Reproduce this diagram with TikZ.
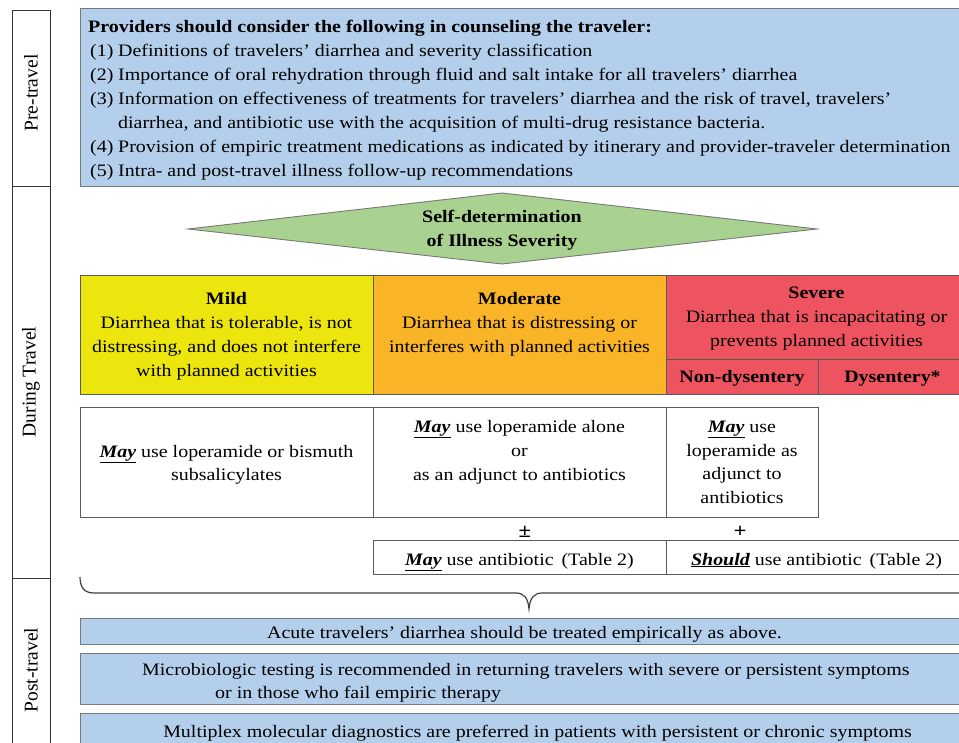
\documentclass[tikz,border=0pt]{standalone}
\usepackage{fontspec}
\setmainfont{Liberation Serif}[FakeStretch=1.14]
\newfontfamily\lblfont{Liberation Serif}
\definecolor{blueF}{RGB}{180,207,235}
\definecolor{greenF}{RGB}{169,210,145}
\definecolor{mildY}{RGB}{236,230,14}
\definecolor{modO}{RGB}{249,180,40}
\definecolor{sevR}{RGB}{238,84,96}
\definecolor{bord}{RGB}{90,90,90}
\definecolor{bordL}{RGB}{120,120,120}
\begin{document}
\begin{tikzpicture}[x=1pt,y=-1pt,
  ln/.style={anchor=base, inner sep=0pt, font=\fontsize{17.5}{24}\selectfont},
  lnw/.style={ln, anchor=base west},
  bluebox/.style={draw=bordL, line width=0.9pt, fill=blueF},
  sevbox/.style={draw=bord, line width=0.9pt},
  treatbox/.style={draw=bord, line width=0.8pt, fill=white},
  sidebox/.style={draw=black!80, line width=0.9pt},
  side/.style={rotate=90, inner sep=0pt, font=\lblfont\fontsize{19.5}{24}\selectfont},
  bracestyle/.style={draw=black!75, line width=1.2pt},
]
\clip (0,0) rectangle (959,743);
\fill[white] (0,0) rectangle (959,743);

% side columns
\draw[sidebox] (12,10) rectangle (50,186);
\draw[sidebox] (12,186) rectangle (50,578);
\draw[sidebox] (12,578) rectangle (50,760);
\node[side] (pre) at (31,93) {Pre-travel};
\node[side] (during) at (31,382) {During Travel};
\node[side] (post) at (31,670) {Post-travel};

% top box
\draw[bluebox] (80,8) rectangle (967,186);
\node[lnw] (h0) at (88,33) {\textbf{Providers should consider the following in counseling the traveler:}};
\node[lnw] (n1) at (90,57) {(1)};
\node[lnw] (t1) at (118,57) {Definitions of travelers' diarrhea and severity classification};
\node[lnw] (n2) at (90,81) {(2)};
\node[lnw] (t2) at (118,81) {Importance of oral rehydration through fluid and salt intake for all travelers' diarrhea};
\node[lnw] (n3) at (90,105) {(3)};
\node[lnw] (t3) at (118,105) {Information on effectiveness of treatments for travelers' diarrhea and the risk of travel, travelers'};
\node[lnw] (t3b) at (118,129) {diarrhea, and antibiotic use with the acquisition of multi-drug resistance bacteria.};
\node[lnw] (n4) at (90,153) {(4)};
\node[lnw] (t4) at (118,153) {Provision of empiric treatment medications as indicated by itinerary and provider-traveler determination};
\node[lnw] (n5) at (90,177) {(5)};
\node[lnw] (t5) at (118,177) {Intra- and post-travel illness follow-up recommendations};

% diamond
\draw[draw=bordL, line width=0.9pt, fill=greenF] (188,229) -- (502,193) -- (817,229) -- (502,264) -- cycle;
\node[ln] (sd1) at (502,223) {\textbf{Self-determination}};
\node[ln] (sd2) at (502,247) {\textbf{of Illness Severity}};

% severity row
\draw[sevbox, fill=mildY] (80,275) rectangle (373,394);
\draw[sevbox, fill=modO] (373,275) rectangle (666,394);
\draw[sevbox, fill=sevR] (666,275) rectangle (967,359);
\draw[sevbox, fill=sevR] (666,359) rectangle (818,394);
\draw[sevbox, fill=sevR] (818,359) rectangle (967,394);

\node[ln] (mi0) at (226.5,305) {\textbf{Mild}};
\node[ln] (mi1) at (226.5,329) {Diarrhea that is tolerable, is not};
\node[ln] (mi2) at (226.5,353) {distressing, and does not interfere};
\node[ln] (mi3) at (226.5,377) {with planned activities};

\node[ln] (mo0) at (519.5,305) {\textbf{Moderate}};
\node[ln] (mo1) at (519.5,329) {Diarrhea that is distressing or};
\node[ln] (mo2) at (519.5,353) {interferes with planned activities};

\node[ln] (se0) at (816.5,299) {\textbf{Severe}};
\node[ln] (se1) at (816.5,323) {Diarrhea that is incapacitating or};
\node[ln] (se2) at (816.5,347) {prevents planned activities};
\node[ln] (nd) at (742,383) {\textbf{Non-dysentery}};
\node[ln] (dy) at (892.5,383) {\textbf{Dysentery*}};

% treatment row
\draw[treatbox] (80,407) rectangle (373,517);
\draw[treatbox] (373,407) rectangle (666,517);
\draw[treatbox] (666,407) rectangle (818,517);

\node[ln] (tm1) at (226.5,457) {\textbf{\textit{\underline{May}}} use loperamide or bismuth};
\node[ln] (tm2) at (226.5,480) {subsalicylates};

\node[ln] (tmo1) at (519.5,432) {\textbf{\textit{\underline{May}}} use loperamide alone};
\node[ln] (tmo2) at (519.5,456) {or};
\node[ln] (tmo3) at (519.5,480) {as an adjunct to antibiotics};

\node[ln] (tn1) at (742,432) {\textbf{\textit{\underline{May}}} use};
\node[ln] (tn2) at (742,456) {loperamide as};
\node[ln] (tn3) at (742,479) {adjunct to};
\node[ln] (tn4) at (742,503) {antibiotics};

\node[ln, font=\fontsize{20}{24}\selectfont] (pm) at (525,537) {\textbf{±}};
\node[ln, font=\fontsize{20}{24}\selectfont] (pl) at (740,537) {\textbf{+}};

% antibiotic row
\draw[treatbox] (373,540) rectangle (666,574);
\draw[treatbox] (666,540) rectangle (967,574);
\node[ln] (ab1) at (519.5,565) {\textbf{\textit{\underline{May}}} use antibiotic\, (Table 2)};
\node[ln] (ab2) at (816.5,565) {\textbf{\textit{\underline{Should}}} use antibiotic\, (Table 2)};

% brace
\draw[bracestyle] (80,577) .. controls (80,587) and (84,593) .. (94,593)
  -- (516,593) .. controls (524,593) and (528,598) .. (529,609)
  .. controls (530,598) and (534,593) .. (542,593) -- (970,593);

% post-travel boxes
\draw[bluebox] (80,618) rectangle (967,644);
\draw[bluebox] (80,653) rectangle (967,704);
\draw[bluebox] (80,713) rectangle (967,770);
\node[ln] (p1) at (524.5,638) {Acute travelers' diarrhea should be treated empirically as above.};
\node[lnw] (p2a) at (142,675) {Microbiologic testing is recommended in returning travelers with severe or persistent symptoms};
\node[lnw] (p2b) at (215,698) {or in those who fail empiric therapy};
\node[ln] (p3) at (537.5,737) {Multiplex molecular diagnostics are preferred in patients with persistent or chronic symptoms};
\end{tikzpicture}
\end{document}
